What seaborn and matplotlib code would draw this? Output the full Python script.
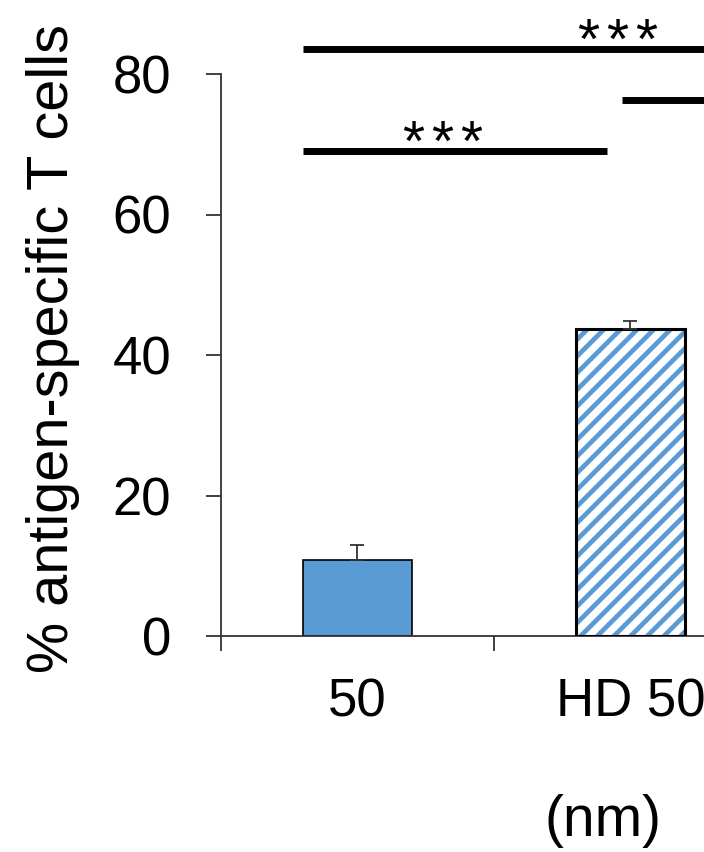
import pandas as pd
import matplotlib as mpl
import matplotlib.pyplot as plt
from matplotlib.patches import Rectangle
import seaborn as sns

mpl.rcParams.update({'font.size': 38, 'font.family': ['Liberation Sans', 'DejaVu Sans'],
                     'hatch.linewidth': 3.4})

# values
sizes = ['50', 'HD 50']
pct_tcells = [10.8, 43.7]
pct_err = [2.2, 1.1]

blue = '#5B9BD5'

df = pd.DataFrame({'size': sizes, 'pct': pct_tcells})

fig = plt.figure(figsize=(7.04, 8.52), dpi=100)
ax = fig.add_axes([221 / 704, 216 / 852, 764 / 704, 562 / 852])

sns.barplot(data=df, x='size', y='pct', color=blue, width=0.4, saturation=1,
            edgecolor='black', linewidth=1.2, ax=ax)

bars = list(ax.patches)
centers = [b.get_x() + b.get_width() / 2 for b in bars]

# hatched second bar: blue stripes on white, black outline on top
hb = bars[1]
hb.set_facecolor('white')
hb.set_edgecolor(blue)
hb.set_hatch('//')
hb.set_linewidth(0)
ax.add_patch(Rectangle((hb.get_x(), 0), hb.get_width(), hb.get_height(),
                       fill=False, edgecolor='black', linewidth=2.2, zorder=3))

# plus-only error bars
ax.errorbar(centers, pct_tcells, yerr=[[0, 0], pct_err], fmt='none',
            ecolor='#333333', elinewidth=1.3, capsize=5, capthick=1.3, zorder=4)

ax.set_ylim(0, 80)
ax.set_xlim(-0.5, 2.3)
ax.set_yticks([0, 20, 40, 60, 80])

sns.despine(ax=ax, top=True, right=True)
for s in ['left', 'bottom']:
    ax.spines[s].set_linewidth(1.3)
    ax.spines[s].set_color('#333333')

ax.tick_params(axis='y', length=11, width=1.3, color='#333333', pad=25)
ax.tick_params(axis='x', which='major', length=0, pad=30)
ax.set_xticks([-0.5, 0.5, 1.5], minor=True)
ax.tick_params(axis='x', which='minor', length=11, width=1.3, color='#333333', direction='out')

ax.set_ylabel('% antigen-specific T cells', fontsize=41.5)
ax.yaxis.set_label_coords(-0.185, 0.511)
ax.set_xlabel('(nm)', fontsize=41)
ax.xaxis.set_label_coords(0.5, -0.282)
ax.xaxis.label.set_va('top')

# significance bars: (start, end, height, star position)
sig = [(-0.2, 2.1, 83.6, 0.952), (0.97, 2.2, 76.3, None), (-0.2, 0.914, 69.0, 0.311)]
for x0, x1, y, xt in sig:
    ax.plot([x0, x1], [y, y], color='black', lw=5, solid_capstyle='butt', clip_on=False)
    if xt is None:
        continue
    # three spaced stars
    for k in (-1, 0, 1):
        ax.annotate('*', xy=(xt, y - 1.4), xytext=(k * 21, 0), textcoords='offset points',
                    ha='center', va='baseline', fontsize=41, annotation_clip=False)

fig.savefig('out.png', dpi=100)
